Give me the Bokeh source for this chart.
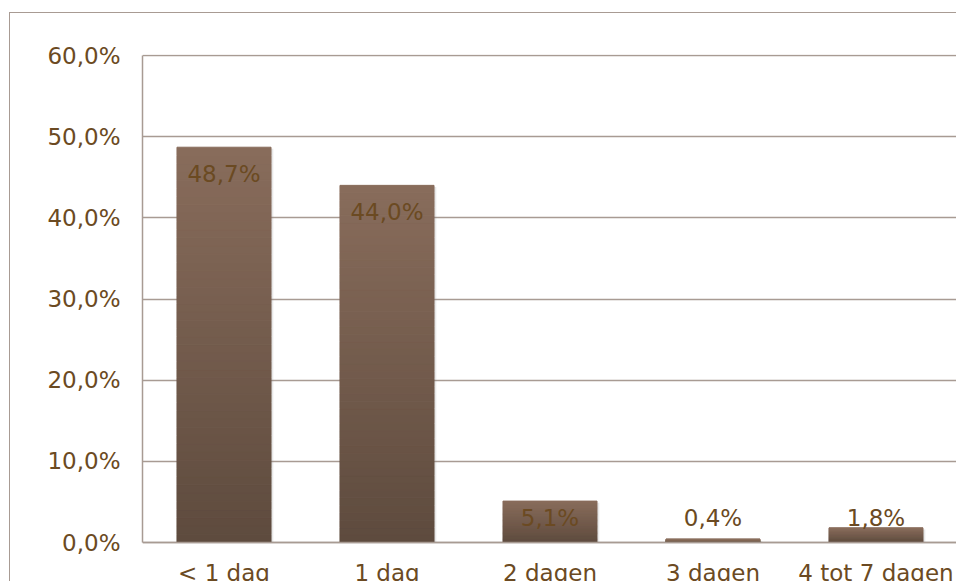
import numpy as np
from bokeh.plotting import figure
from bokeh.models import ColumnDataSource, FactorRange, Range1d, FixedTicker
from bokeh.embed import file_html
from bokeh.resources import INLINE
from bokeh.core.properties import value
from bokeh.transform import dodge

# ---- data ----
categories = ["< 1 dag", "1 dag", "2 dagen", "3 dagen", "4 tot 7 dagen"]
values = [48.7, 44.0, 5.1, 0.4, 1.8]
value_labels = ["48,7%", "44,0%", "5,1%", "0,4%", "1,8%"]
y_ticks = [0, 10, 20, 30, 40, 50, 60]
y_tick_labels = ["0,0%", "10,0%", "20,0%", "30,0%", "40,0%", "50,0%", "60,0%"]

# ---- styling ----
FONT = "DejaVu Sans"
FONT_SIZE = "23px"
TEXT_COLOR = "#6b4a22"
GRID_COLOR = "#a89b93"
TOP_RGB = np.array([0x88, 0x6c, 0x5b])
BOT_RGB = np.array([0x5e, 0x4b, 0x3e])
BAR_W = 0.577
PX_UNIT = 487 / 60.0
Y_END = 60 + 1 / PX_UNIT
Y_START = -40 / PX_UNIT   # room below the zero line for the category labels

p = figure(
    width=947, height=569,
    x_range=FactorRange(*categories, range_padding=0),
    y_range=Range1d(Y_START, Y_END),
    output_backend="svg", toolbar_location=None,
    min_border_left=132, min_border_right=0,
    min_border_top=41, min_border_bottom=0,
)
p.styles = {"margin-top": "12px", "margin-left": "9px",
            "border-left": "1px solid #a89b93", "border-top": "1px solid #a89b93"}
p.outline_line_color = None
p.background_fill_color = "white"
p.border_fill_color = "white"

# gridlines
p.xgrid.grid_line_color = None
p.ygrid.grid_line_color = GRID_COLOR
p.ygrid.grid_line_width = 1.5
p.yaxis.ticker = FixedTicker(ticks=y_ticks)
p.yaxis.major_label_overrides = {t: l for t, l in zip(y_ticks, y_tick_labels)}
p.yaxis.bounds = (y_ticks[0], y_ticks[-1])

for ax in (p.xaxis, p.yaxis):
    ax.axis_line_color = GRID_COLOR
    ax.axis_line_width = 1.5
    ax.major_tick_line_color = None
    ax.minor_tick_line_color = None
    ax.major_label_text_font = FONT
    ax.major_label_text_font_size = FONT_SIZE
    ax.major_label_text_color = TEXT_COLOR
p.yaxis.major_label_standoff = 16
p.xaxis.major_label_standoff = 11
p.xaxis.fixed_location = 0

# shadow
p.vbar(x=dodge("x", 0.014, range=p.x_range), top="top", bottom=0, width=BAR_W,
       source=ColumnDataSource(dict(x=categories, top=[v - 0.2 for v in values])),
       fill_color="#7f7f7f", fill_alpha=0.18, line_color=None)

# gradient bars built as slices of each bar
N = 48
xs, bots, tops, cols = [], [], [], []
for c, v in zip(categories, values):
    for k in range(N):
        t = k / (N - 1)
        rgb = BOT_RGB + (TOP_RGB - BOT_RGB) * t
        xs.append(c)
        bots.append(v * k / N)
        tops.append(v * (k + 1) / N)
        cols.append("#%02x%02x%02x" % tuple(int(round(x)) for x in rgb))
p.vbar(x="x", bottom="b", top="t", width=BAR_W,
       source=ColumnDataSource(dict(x=xs, b=bots, t=tops, c=cols)),
       fill_color="c", line_color="c", line_width=1)

# value labels
label_y = np.maximum(np.array(values) - 27 / PX_UNIT, 25 / PX_UNIT)
p.text(x=categories, y=label_y, text=value_labels,
       text_align="center", text_baseline="middle",
       text_font=value(FONT), text_font_size=FONT_SIZE, text_color=TEXT_COLOR)

open("out.html", "w").write(file_html(p, INLINE))
